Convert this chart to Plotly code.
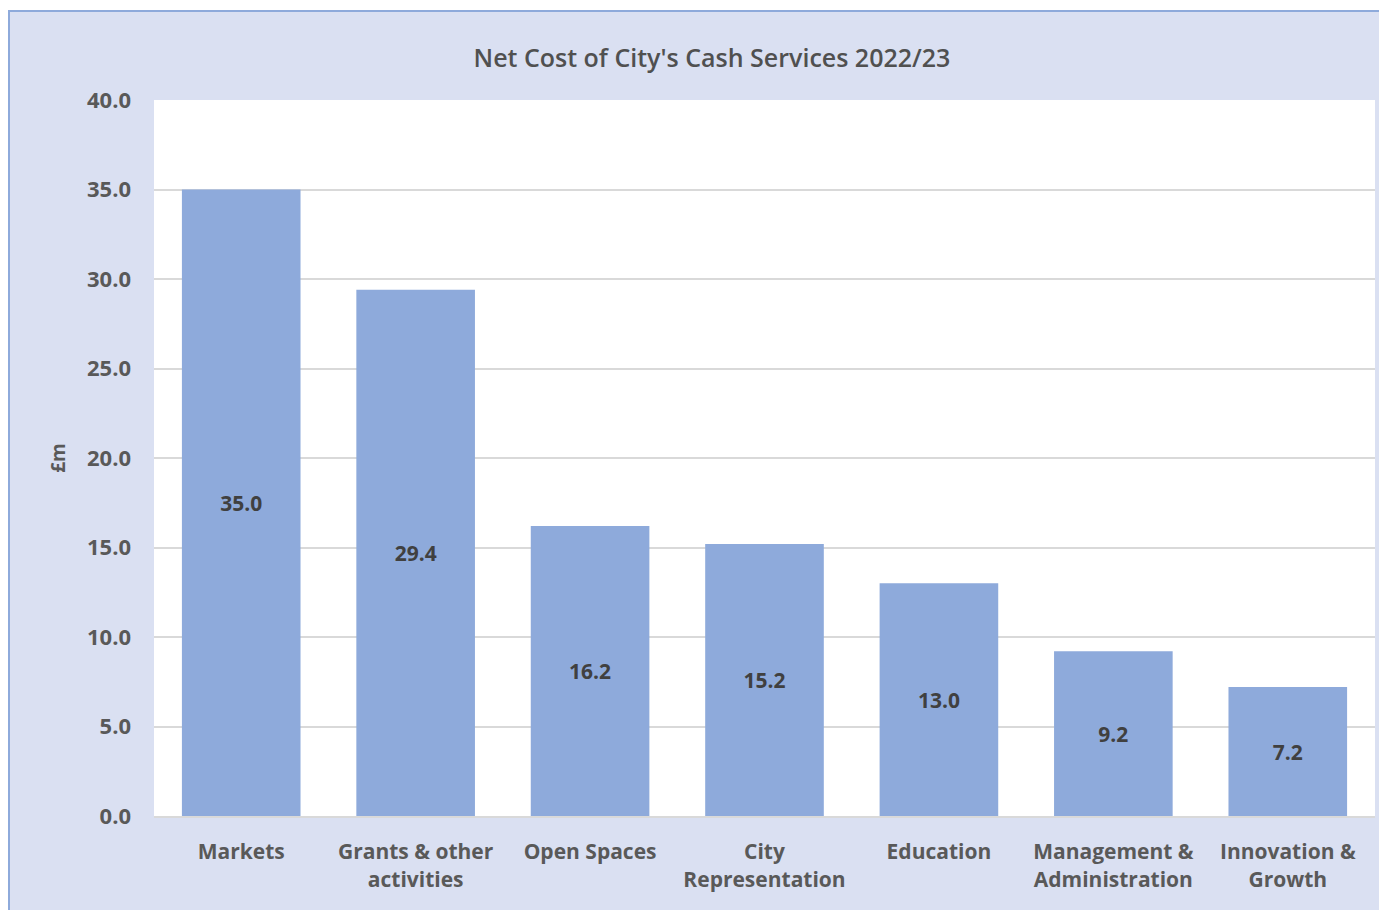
import plotly.graph_objects as go

categories = ["Markets", "Grants & other<br>activities", "Open Spaces", "City<br>Representation",
              "Education", "Management &<br>Administration", "Innovation &<br>Growth"]
values = [35.0, 29.4, 16.2, 15.2, 13.0, 9.2, 7.2]
y_ticks = [0, 5, 10, 15, 20, 25, 30, 35, 40]

# page is rendered with an 8px body margin, so the figure starts at (8, 8)
OFF = 8
W, H = 1387 - OFF, 910 - OFF
L, R, T, B = 154 - OFF, 12, 100 - OFF, 94
pw, ph = W - L - R, H - T - B

def px_x(p):
    return (p - OFF - L) / pw

def px_y(p):
    return (H - B - (p - OFF)) / ph

FONT = "Open Sans"
TXT = "#595959"

fig = go.Figure(go.Bar(
    x=categories, y=values,
    marker=dict(color="#8EAADB", line=dict(width=0)),
    width=0.68,
    text=[f"{v:.1f}" for v in values],
    textposition="inside", insidetextanchor="middle",
    textfont=dict(family=FONT, size=21, color="#404040", weight="bold"),
    hoverinfo="x+y",
))

fig.update_layout(
    width=W, height=H,
    margin=dict(l=L, r=R, t=T, b=B, autoexpand=False),
    paper_bgcolor="white",
    plot_bgcolor="white",
    showlegend=False,
    title=dict(text="Net Cost of City's Cash Services 2022/23",
               x=(712 - OFF) / W, xanchor="center",
               y=1 - (58 - OFF) / H, yanchor="middle",
               font=dict(family=FONT, size=25, color="#505050", weight=600)),
    shapes=[
        dict(type="rect", xref="paper", yref="paper", layer="below",
             x0=px_x(9), x1=px_x(1400), y0=px_y(930), y1=px_y(11),
             fillcolor="#DAE0F2", line=dict(color="#8EAADB", width=2)),
        dict(type="rect", xref="paper", yref="paper", layer="below",
             x0=0, x1=1, y0=0, y1=1, fillcolor="white", line=dict(width=0)),
    ],
    xaxis=dict(
        showgrid=False, showline=True, linecolor="#D9D9D9", linewidth=2,
        ticks="", tickfont=dict(family=FONT, size=21, color=TXT, weight="bold"),
        ticklabelstandoff=16,
    ),
    yaxis=dict(
        range=[0, 40], tickvals=y_ticks, tickformat=".1f",
        showgrid=True, gridcolor="#D9D9D9", gridwidth=1.5, zeroline=False,
        ticks="", tickfont=dict(family=FONT, size=22, color=TXT, weight="bold"),
        ticklabelstandoff=22,
        title=dict(text="£m", font=dict(family=FONT, size=19, color=TXT, weight="bold"), standoff=16),
    ),
    bargap=0.32,
)

fig.write_html("out.html")
